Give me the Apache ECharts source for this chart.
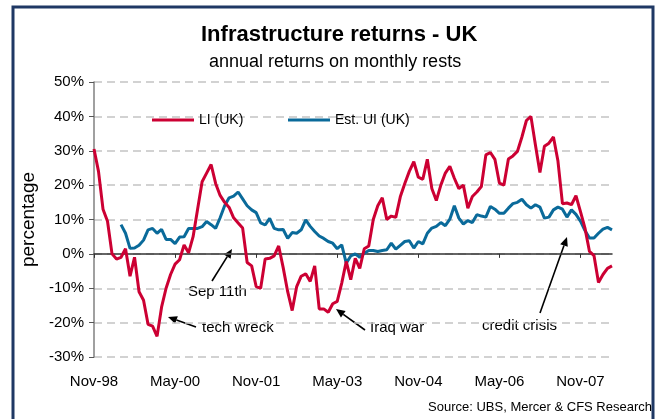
<!DOCTYPE html>
<html>
<head>
<meta charset="utf-8">
<script src="https://cdn.jsdelivr.net/npm/echarts@6/dist/echarts.min.js"></script>
<style>
  html, body { margin: 0; padding: 0; background: #fff; }
  #main { width: 660px; height: 419px; }
</style>
</head>
<body>
<div id="main"></div>
<script>
// month labels, Nov-98 .. Jun-08
var monthNames = ['Jan','Feb','Mar','Apr','May','Jun','Jul','Aug','Sep','Oct','Nov','Dec'];
var categories = [];
for (var k = 0; k < 116; k++) {
    var m = (10 + k) % 12;
    var y = 1998 + Math.floor((10 + k) / 12);
    categories.push(monthNames[m] + '-' + String(y).slice(2));
}

// LI (UK), annual return %
var liUK = [
    30.5, 24, 13, 9.5, 0, -1.5, -1, 1.5, -6.5, -1,
    -11, -13.5, -20.5, -21, -24, -15.5, -10, -6, -3, -1.7,
    2.6, 0.3, 5, 13, 21, 23.5, 26, 20.5, 17, 15,
    13.5, 10.5, 9, 7.5, -2.5, -3.5, -9.5, -10, -1.5, -1.3,
    -0.6, 2.3, -4, -11, -16.5, -9.5, -6.5, -5.8, -8, -3.5,
    -16, -16, -17, -14.5, -13.8, -8.5, -2.2, -7.5, -1.3, -4.2,
    1.5, 2.3, 10, 14, 16.3, 10, 11, 10.6, 16.6, 20.5,
    24, 26.8, 22.3, 21.7, 27.5, 19, 15.5, 20, 23.5, 25.5,
    22, 19, 20, 13.3, 16.7, 18, 19.6, 28.8, 29.5, 27.5,
    20.6, 20, 27.6, 28.5, 29.8, 34, 38.8, 40, 31.7, 23.7,
    31.3, 32.2, 34, 27, 14.6, 14.8, 14.3, 16.9, 12.3, 7.5,
    0.7, -0.5, -8.3, -6, -4.2, -3.5
];

// Est. UI (UK), starts May-99
var estUI = [
    null, null, null, null, null, null, 8.5, 6, 1.6, 1.7,
    2.5, 4, 7, 7.4, 6, 7.1, 4.2, 4.2, 3, 4.9,
    5, 7.4, 7.4, 7.4, 7.9, 9.4, 8.5, 7.4, 10.5, 14,
    16.3, 16.8, 18, 16, 14, 12.8, 12, 9, 8.4, 10.3,
    7.4, 7, 7.1, 4.5, 6.2, 6, 7, 9.9, 8, 6.5,
    5.2, 4.5, 3.6, 3.1, 1.5, 2.6, -2.7, -0.6, 0, -1,
    0.2, 1, 1, 0.7, 1, 1.2, 3.1, 1.4, 2.5, 3.6,
    3.8, 1.7, 3.6, 2.9, 6, 7.5, 8, 9.1, 8.2, 10.1,
    14, 10.4, 8.7, 9.7, 9.1, 11.4, 11, 10.7, 13.8, 13,
    11.8, 11.8, 13.3, 14.6, 15, 15.9, 14.3, 13.3, 14.3, 13.6,
    10.4, 10.7, 12.8, 13.6, 13, 10.7, 12.8, 11.5, 9.5, 6.8,
    4.6, 4.6, 6, 7.2, 7.7, 7
];

var FONT = "'Liberation Sans', Arial, sans-serif";

// simple arrow: line from (x1,y1) with a head at (x2,y2)
function arrow(x1, y1, x2, y2) {
    var dx = x2 - x1, dy = y2 - y1;
    var len = Math.sqrt(dx * dx + dy * dy);
    var ux = dx / len, uy = dy / len;
    var hl = 9, hw = 4;
    var bx = x2 - ux * hl, by = y2 - uy * hl;
    return {
        type: 'group',
        children: [
            { type: 'line', shape: { x1: x1, y1: y1, x2: bx, y2: by }, style: { stroke: '#000', lineWidth: 1.6 } },
            { type: 'polygon', shape: { points: [[x2, y2], [bx - uy * hw, by + ux * hw], [bx + uy * hw, by - ux * hw]] }, style: { fill: '#000' } }
        ]
    };
}

function note(txt, x, y) {
    return { type: 'text', left: x, top: y, style: { text: txt, font: '15px ' + FONT, fill: '#000' } };
}

var myChart = echarts.init(document.getElementById('main'));

var option = {
    backgroundColor: '#fff',
    animation: false,
    textStyle: { fontFamily: FONT },
    title: [
        {
            text: 'Infrastructure returns - UK',
            left: 196, top: 19,
            textStyle: { fontSize: 22, fontWeight: 'bold', color: '#000', fontFamily: FONT }
        },
        {
            text: 'annual returns on monthly rests',
            left: 204, top: 48,
            textStyle: { fontSize: 18, fontWeight: 'normal', color: '#000', fontFamily: FONT }
        }
    ],
    // two legends so each item can sit where it does in the original
    legend: [
        {
            data: ['LI (UK)'], left: 147, top: 108,
            icon: 'rect', itemWidth: 42, itemHeight: 3, itemGap: 5,
            textStyle: { fontSize: 14, color: '#000', fontFamily: FONT }
        },
        {
            data: ['Est. UI (UK)'], left: 283, top: 108,
            icon: 'rect', itemWidth: 42, itemHeight: 3, itemGap: 5,
            textStyle: { fontSize: 14, color: '#000', fontFamily: FONT }
        }
    ],
    grid: { left: 94, right: 48, top: 82, bottom: 62, containLabel: false, outerBoundsMode: 'none' },
    xAxis: {
        type: 'category',
        data: categories,
        boundaryGap: false,
        axisLine: { onZero: true, lineStyle: { color: '#333', width: 1.5 } },
        axisTick: { show: true, interval: 17, length: 4, lineStyle: { color: '#333' } },
        // labels sit under the plot, not under the zero line
        axisLabel: { interval: 17, margin: 17, fontSize: 15, color: '#000', fontFamily: FONT },
        splitLine: { show: false }
    },
    yAxis: {
        type: 'value',
        min: -30, max: 50, interval: 10,
        name: 'percentage',
        nameLocation: 'middle',
        nameGap: 48,
        nameRotate: 90,
        nameTextStyle: { fontSize: 19, color: '#000', fontFamily: FONT },
        axisLine: { show: true, lineStyle: { color: '#808080', width: 1.5 } },
        axisTick: { show: true, length: 5, lineStyle: { color: '#555' } },
        axisLabel: { formatter: '{value}%', margin: 10, fontSize: 15, color: '#000', fontFamily: FONT },
        splitLine: { show: true, lineStyle: { color: '#c4c4c4', width: 1.5, type: [8, 5] } }
    },
    series: [
        {
            name: 'LI (UK)', type: 'line', data: liUK,
            symbol: 'none', z: 3,
            lineStyle: { color: '#cc0033', width: 3 },
            itemStyle: { color: '#cc0033' }
        },
        {
            name: 'Est. UI (UK)', type: 'line', data: estUI,
            symbol: 'none', z: 2,
            lineStyle: { color: '#0a6a9a', width: 3 },
            itemStyle: { color: '#0a6a9a' }
        }
    ],
    graphic: [
        // frame
        { type: 'rect', shape: { x: 13, y: 7, width: 640, height: 440 }, style: { fill: 'none', stroke: '#1f3864', lineWidth: 3 }, silent: true },
        // annotations
        arrow(196, 327, 168, 317), note('tech wreck', 202, 320),
        arrow(212, 281, 232, 249), note('Sep 11th', 188, 284),
        arrow(365, 330, 336, 309), note('Iraq war', 370, 320),
        arrow(540, 313, 567, 237), note('credit crisis', 482, 318),
        {
            type: 'text', right: 8, top: 401,
            style: { text: 'Source: UBS, Mercer & CFS Research', font: '13px ' + FONT, fill: '#000' }
        }
    ]
};

myChart.setOption(option);
</script>
</body>
</html>
